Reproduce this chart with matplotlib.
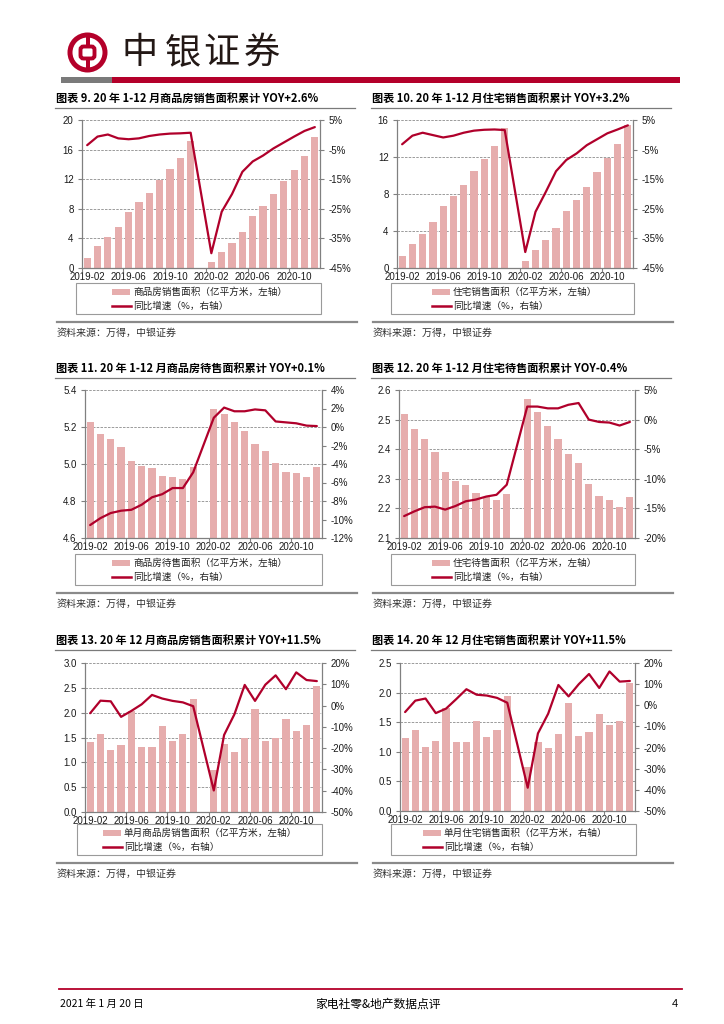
import numpy as np
import matplotlib
matplotlib.use('Agg')
import matplotlib.pyplot as plt
from matplotlib.patches import Rectangle, Circle, FancyBboxPatch
from matplotlib.lines import Line2D
from matplotlib.ticker import FuncFormatter

NUM_FONT = ['Liberation Sans Narrow', 'Liberation Sans', 'Noto Sans CJK SC', 'DejaVu Sans']
CJK = ['Noto Sans CJK SC', 'DejaVu Sans']
plt.rcParams['font.family'] = NUM_FONT
plt.rcParams['axes.unicode_minus'] = False

W, H = 724, 1024
BAR_C = '#E6ADAD'
LINE_C = '#B0002B'
RED = '#B4002A'
GREY = '#808080'
GRID_C = '#8C8C8C'
TXT_C = '#1A1A1A'

# ---- data ----
months = ['2019-02', '2019-03', '2019-04', '2019-05', '2019-06', '2019-07',
          '2019-08', '2019-09', '2019-10', '2019-11', '2019-12', '2020-01',
          '2020-02', '2020-03', '2020-04', '2020-05', '2020-06', '2020-07',
          '2020-08', '2020-09', '2020-10', '2020-11', '2020-12']
tick_idx = [0, 4, 8, 12, 16, 20]
nan = np.nan

sales_area = [1.41, 2.99, 4.25, 5.58, 7.62, 8.92, 10.2, 11.95, 13.35, 14.93, 17.2, nan,
              0.87, 2.22, 3.43, 4.9, 6.97, 8.42, 10.02, 11.71, 13.3, 15.1, 17.65]
sales_yoy = [-3.5, -0.6, 0.1, -1.2, -1.5, -1.2, -0.4, 0.1, 0.4, 0.5, 0.7, nan,
             -40.0, -26.0, -20.0, -12.5, -9.0, -7.0, -4.6, -2.6, -0.6, 1.3, 2.6]

res_area = [1.26, 2.6, 3.7, 4.95, 6.65, 7.8, 9.0, 10.5, 11.8, 13.2, 15.1, nan,
            0.76, 1.95, 3.03, 4.3, 6.14, 7.4, 8.74, 10.4, 11.85, 13.36, 15.5]
res_yoy = [-3.2, -0.3, 0.7, -0.1, -0.9, -0.3, 0.7, 1.4, 1.7, 1.8, 1.6, nan,
           -39.6, -26.0, -19.3, -12.3, -8.5, -6.3, -3.5, -1.5, 0.5, 1.8, 3.2]

stock_area = [5.226, 5.164, 5.137, 5.093, 5.017, 4.988, 4.977, 4.934, 4.931, 4.92, 4.982, nan,
              5.30, 5.27, 5.226, 5.177, 5.107, 5.068, 5.005, 4.958, 4.95, 4.93, 4.985]
stock_yoy = [-10.6, -9.85, -9.3, -9.05, -8.95, -8.4, -7.6, -7.26, -6.6, -6.6, -4.9, nan,
             1.0, 2.1, 1.7, 1.7, 1.9, 1.8, 0.6, 0.5, 0.4, 0.15, 0.1]

res_stock = [2.519, 2.469, 2.433, 2.39, 2.324, 2.294, 2.28, 2.251, 2.24, 2.229, 2.248, nan,
             2.57, 2.525, 2.48, 2.436, 2.384, 2.354, 2.283, 2.242, 2.227, 2.206, 2.237]
res_stock_yoy = [-16.3, -15.5, -14.8, -14.7, -15.2, -14.6, -13.8, -13.5, -13.0, -12.7, -11.0, nan,
                 2.2, 2.2, 1.9, 1.9, 2.5, 2.8, 0.0, -0.4, -0.5, -1.0, -0.4]

month_sales = [1.41, 1.57, 1.24, 1.35, 2.04, 1.31, 1.31, 1.74, 1.42, 1.57, 2.27, nan,
               0.85, 1.36, 1.21, 1.48, 2.08, 1.43, 1.49, 1.87, 1.63, 1.76, 2.54]
month_sales_yoy = [-3.6, 2.3, 2.0, -5.3, -2.5, 0.6, 5.0, 3.3, 2.2, 1.5, -0.3, nan,
                   -39.9, -13.8, -4.1, 9.7, 2.2, 9.8, 14.2, 7.7, 15.6, 12.0, 11.5]

month_res = [1.23, 1.36, 1.08, 1.19, 1.74, 1.16, 1.17, 1.52, 1.25, 1.37, 1.95, nan,
             0.75, 1.17, 1.07, 1.30, 1.82, 1.27, 1.34, 1.64, 1.46, 1.52, 2.16]
month_res_yoy = [-3.2, 2.2, 3.2, -3.7, -1.6, 2.9, 7.6, 5.0, 4.6, 3.5, 1.2, nan,
                 -39.0, -13.3, -4.0, 9.6, 4.2, 10.0, 14.8, 8.2, 16.0, 11.2, 11.5]

titles = ['图表 9. 20 年 1-12 月商品房销售面积累计 YOY+2.6%',
          '图表 10. 20 年 1-12 月住宅销售面积累计 YOY+3.2%',
          '图表 11. 20 年 1-12 月商品房待售面积累计 YOY+0.1%',
          '图表 12. 20 年 1-12 月住宅待售面积累计 YOY-0.4%',
          '图表 13. 20 年 12 月商品房销售面积累计 YOY+11.5%',
          '图表 14. 20 年 12 月住宅销售面积累计 YOY+11.5%']
bar_labels = ['商品房销售面积（亿平方米，左轴）',
              '住宅销售面积（亿平方米，左轴）',
              '商品房待售面积（亿平方米，左轴）',
              '住宅待售面积（亿平方米，左轴）',
              '单月商品房销售面积（亿平方米，左轴）',
              '单月住宅销售面积（亿平方米，右轴）']
line_label = '同比增速（%，右轴）'
source = '资料来源：万得，中银证券'

# layout of each chart in pixels: plot box, legend box, legend handle x, column x, title y
charts = [
    dict(bars=sales_area, line=sales_yoy, ylim=(0, 20), yt=[0, 4, 8, 12, 16, 20], yf='{:.0f}',
         ylim2=(-45, 5), yt2=[-45, -35, -25, -15, -5, 5],
         plot=(82, 120, 320, 268), leg=(76, 283, 321, 314), hx=112, col=55, top=98),
    dict(bars=res_area, line=res_yoy, ylim=(0, 16), yt=[0, 4, 8, 12, 16], yf='{:.0f}',
         ylim2=(-45, 5), yt2=[-45, -35, -25, -15, -5, 5],
         plot=(397, 120, 633, 268), leg=(391, 283, 634, 314), hx=432, col=371, top=98),
    dict(bars=stock_area, line=stock_yoy, ylim=(4.6, 5.4), yt=[4.6, 4.8, 5.0, 5.2, 5.4], yf='{:.1f}',
         ylim2=(-12, 4), yt2=[-12, -10, -8, -6, -4, -2, 0, 2, 4],
         plot=(85, 390, 322, 538), leg=(75, 554, 322, 585), hx=112, col=55, top=368),
    dict(bars=res_stock, line=res_stock_yoy, ylim=(2.1, 2.6), yt=[2.1, 2.2, 2.3, 2.4, 2.5, 2.6], yf='{:.1f}',
         ylim2=(-20, 5), yt2=[-20, -15, -10, -5, 0, 5],
         plot=(399, 390, 635, 538), leg=(391, 554, 635, 585), hx=432, col=371, top=368),
    dict(bars=month_sales, line=month_sales_yoy, ylim=(0, 3), yt=[0, 0.5, 1, 1.5, 2, 2.5, 3], yf='{:.1f}',
         ylim2=(-50, 20), yt2=[-50, -40, -30, -20, -10, 0, 10, 20],
         plot=(85, 663, 322, 812), leg=(77, 824, 322, 855), hx=103, col=55, top=640),
    dict(bars=month_res, line=month_res_yoy, ylim=(0, 2.5), yt=[0, 0.5, 1, 1.5, 2, 2.5], yf='{:.1f}',
         ylim2=(-50, 20), yt2=[-50, -40, -30, -20, -10, 0, 10, 20],
         plot=(400, 663, 635, 811), leg=(391, 824, 636, 855), hx=423, col=371, top=640),
]


def px_axes(fig, x0, y0, x1, y1, **kw):
    return fig.add_axes([x0 / W, 1 - y1 / H, (x1 - x0) / W, (y1 - y0) / H], **kw)


def draw_chart(fig, page, c, title, bar_label):
    x = np.arange(len(months))
    ax = px_axes(fig, *c['plot'])
    ax.bar(x, np.array(c['bars'], dtype=float), width=0.7, color=BAR_C, zorder=2)
    ax.set_xlim(-0.5, len(months) - 0.5)
    ax.set_ylim(*c['ylim'])
    ax.set_yticks(c['yt'])
    fmt = c['yf']
    ax.yaxis.set_major_formatter(FuncFormatter(lambda v, p: fmt.format(v)))
    ax.grid(axis='y', color=GRID_C, lw=0.6, ls=(0, (3, 1.5)), zorder=1)
    ax.set_axisbelow(True)
    ax.set_xticks(tick_idx)
    ax.set_xticklabels([months[i] for i in tick_idx])
    ax.set_xticks(np.array(tick_idx) - 0.5, minor=True)
    ax.tick_params(axis='x', which='major', length=0, pad=3, labelsize=7, labelcolor=TXT_C)
    ax.tick_params(axis='x', which='minor', length=3, color=GREY, width=0.8)
    ax.tick_params(axis='y', length=3, color=GREY, width=0.8, pad=3, labelsize=7, labelcolor=TXT_C)
    for s in ['top', 'right']:
        ax.spines[s].set_visible(False)
    for s in ['left', 'bottom']:
        ax.spines[s].set_color(GREY)
        ax.spines[s].set_linewidth(0.9)

    ax2 = ax.twinx()
    line = np.array(c['line'], dtype=float)
    m = ~np.isnan(line)
    ax2.plot(x[m], line[m], color=LINE_C, lw=1.6, solid_joinstyle='round',
             solid_capstyle='round', zorder=3)
    ax2.set_ylim(*c['ylim2'])
    ax2.set_yticks(c['yt2'])
    ax2.yaxis.set_major_formatter(FuncFormatter(lambda v, p: '{:.0f}%'.format(v)))
    ax2.tick_params(axis='y', length=3, color=GREY, width=0.8, pad=3, labelsize=7, labelcolor=TXT_C)
    for s in ['top', 'left', 'bottom']:
        ax2.spines[s].set_visible(False)
    ax2.spines['right'].set_color(GREY)
    ax2.spines['right'].set_linewidth(0.9)

    # title, separators, source
    col = c['col']
    page.text(col + 1, c['top'], title, family=CJK, weight='bold', fontsize=8.0,
              color='#000000', va='center', ha='left')
    page.add_line(Line2D([col, col + 300], [c['top'] + 10, c['top'] + 10], color='#7A7A7A', lw=0.9))
    y_bot = c['leg'][3] + 8
    page.add_line(Line2D([col + 2, col + 302], [y_bot, y_bot], color='#8A8A8A', lw=1.6))
    page.text(col + 2, y_bot + 11, source, family=CJK, fontsize=7.2, color='#333333',
              va='center', ha='left', style='italic')

    # legend box
    lx0, ly0, lx1, ly1 = c['leg']
    page.add_patch(Rectangle((lx0, ly0), lx1 - lx0, ly1 - ly0, fill=False,
                             ec='#9A9A9A', lw=0.8))
    hx = c['hx']
    r1 = ly0 + 9
    r2 = ly0 + 23
    page.add_patch(Rectangle((hx, r1 - 3), 18, 6, color=BAR_C, lw=0))
    page.add_line(Line2D([hx, hx + 19], [r2, r2], color=LINE_C, lw=1.8))
    page.text(hx + 21, r1, bar_label, family=CJK, fontsize=6.9, color='#222222', va='center')
    page.text(hx + 21, r2, line_label, family=CJK, fontsize=6.9, color='#222222', va='center')


fig = plt.figure(figsize=(W / 100, H / 100), dpi=100)
page = fig.add_axes([0, 0, 1, 1])
page.set_xlim(0, W)
page.set_ylim(H, 0)
page.axis('off')

# header logo
page.add_patch(Circle((87.5, 52.5), 20, color=RED, lw=0))
page.add_patch(Circle((87.5, 52.5), 15, color='white', lw=0))
page.add_patch(Rectangle((85.5, 36), 4, 32, color=RED, lw=0))
page.add_patch(FancyBboxPatch((80.5, 46.5), 14, 12, boxstyle='round,pad=0,rounding_size=3',
                              fc='white', ec=RED, lw=2.8))
for ch, cx in zip('中银证券', [140, 183, 221, 262]):
    page.text(cx, 53, ch, family=CJK, fontsize=26, color='#231815',
              ha='center', va='center')
page.add_patch(Rectangle((61, 77), 51, 6, color='#7A7A7A', lw=0))
page.add_patch(Rectangle((112, 77), 568, 6, color=RED, lw=0))

for c, t, bl in zip(charts, titles, bar_labels):
    draw_chart(fig, page, c, t, bl)

# footer
page.add_line(Line2D([59, 682], [989, 989], color=RED, lw=1.3))
page.text(60, 1004, '2021 年 1 月 20 日', family=CJK, fontsize=7.5, color='#000000', va='center')
page.text(378, 1004, '家电社零&地产数据点评', family=CJK, fontsize=8.5, color='#000000',
          va='center', ha='center')
page.text(678, 1004, '4', family=NUM_FONT, fontsize=8, color='#000000', va='center', ha='right')

fig.savefig('out.png', dpi=100)
